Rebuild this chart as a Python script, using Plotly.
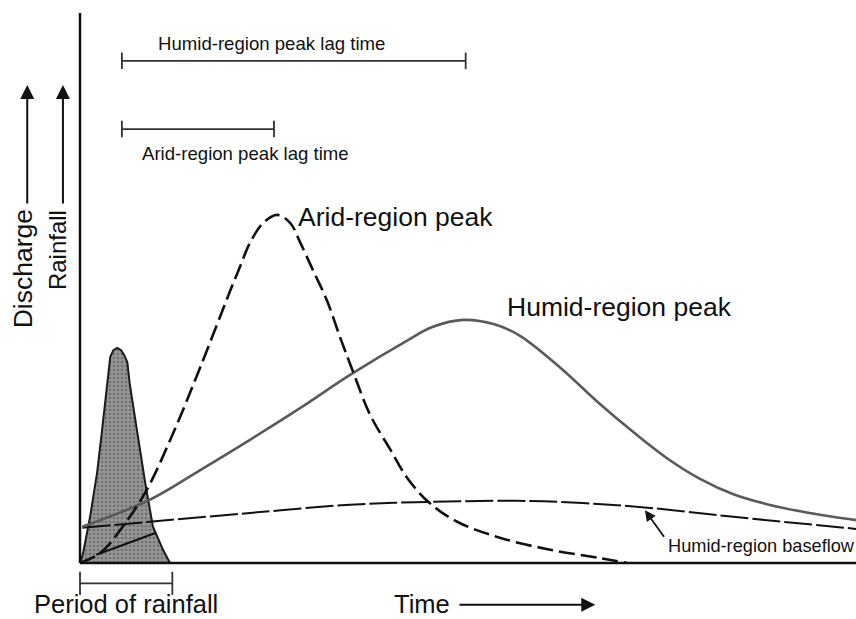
import plotly.graph_objects as go

# ---- data (arbitrary time / discharge units; origin at axes corner) ----
rain_t = [0, 0.4, 1.3, 2.2, 2.8, 3.5, 3.9, 4.3, 4.8, 5.3, 5.7, 6.1, 6.4, 7.4, 8.4, 9.4, 10.7, 11.6]
rain_v = [0, 1.8, 8.4, 16.4, 23.6, 32.7, 37.5, 38.7, 39.1, 38.7, 37.8, 36.5, 32.7, 23.6, 14.6, 6.6, 2.4, 0]

arid_t = [0, 2.6, 5.5, 8.6, 12.0, 15.5, 19.3, 20.6, 21.9, 23.6, 25.4, 27.1, 28.4, 30.0, 31.8,
          33.5, 35.1, 37.4, 40.0, 42.1, 44.9, 48.6, 54.1, 60.6, 67.0, 70.5]
arid_q = [0, 1.8, 6.6, 13.3, 23.6, 35.6, 49.3, 53.8, 58.2, 61.8, 63.3, 61.8, 58.2, 53.3, 47.8,
          41.1, 35.1, 26.9, 20.6, 15.6, 11.1, 7.5, 4.6, 2.4, 0.9, 0]

humid_t = [0.3, 9.0, 15.5, 21.9, 28.4, 34.8, 42.1, 45.4, 49.4, 53.4, 56.7, 61.9,
           67.0, 71.3, 75.6, 79.9, 84.2, 88.5, 92.8, 97.0, 100]
humid_q = [6.6, 11.5, 16.9, 22.4, 28.2, 34.2, 40.4, 42.9, 44.2, 43.4, 41.3, 35.5,
           28.9, 23.8, 19.1, 15.3, 12.5, 10.7, 9.4, 8.4, 7.8]

base_t = [0.3, 9.0, 21.9, 34.8, 44.9, 56.3, 64.8, 73.5, 84.2, 100]
base_q = [6.4, 7.5, 9.1, 10.6, 11.1, 11.3, 10.9, 10.0, 8.4, 6.2]

sep_t = [2.1, 9.8]
sep_q = [1.5, 5.5]

rain_center = 5.4
arid_peak_t = 25.0
humid_peak_t = 49.7
rain_end = 11.9

FONT = "Arial, Liberation Sans, sans-serif"
XU = 7.76  # px per time unit
YU = 5.5   # px per discharge unit

fig = go.Figure()

# rainfall hyetograph
fig.add_trace(go.Scatter(x=rain_t, y=rain_v, mode="lines", fill="toself",
                         fillcolor="#8f8f8f",
                         fillpattern=dict(shape=".", bgcolor="#959595", fgcolor="#505050",
                                          size=4, solidity=0.35),
                         line=dict(color="#1a1a1a", width=2), hoverinfo="skip"))
fig.add_trace(go.Scatter(x=sep_t, y=sep_q, mode="lines",
                         line=dict(color="#111", width=2), hoverinfo="skip"))

# hydrographs
fig.add_trace(go.Scatter(x=base_t, y=base_q, mode="lines", line_shape="spline",
                         line=dict(color="#111", width=2, dash="28px,4px"), hoverinfo="skip"))
fig.add_trace(go.Scatter(x=humid_t, y=humid_q, mode="lines", line_shape="spline",
                         line=dict(color="#5a5a5a", width=2.6), hoverinfo="skip"))
fig.add_trace(go.Scatter(x=arid_t, y=arid_q, mode="lines", line_shape="spline",
                         line=dict(color="#111", width=2.6, dash="16px,6px"), hoverinfo="skip"))

# axes
fig.add_trace(go.Scatter(x=[0, 0, None, 0, 100], y=[100, 0, None, 0, 0], mode="lines",
                         line=dict(color="#111", width=2.5), hoverinfo="skip"))

# lag-time bars and rainfall period bar
def bar(x0, x1, y, h):
    return [x0, x1, None, x0, x0, None, x1, x1], [y, y, None, y - h, y + h, None, y - h, y + h]

bx, by = bar(rain_center, humid_peak_t, 91.3, 1.5)
fig.add_trace(go.Scatter(x=bx, y=by, mode="lines", line=dict(color="#333", width=1.8), hoverinfo="skip"))
bx, by = bar(rain_center, arid_peak_t, 78.9, 1.5)
fig.add_trace(go.Scatter(x=bx, y=by, mode="lines", line=dict(color="#333", width=1.8), hoverinfo="skip"))
bx, by = bar(0, rain_end, -3.7, 2.1)
fig.add_trace(go.Scatter(x=bx, y=by, mode="lines", line=dict(color="#333", width=1.8), hoverinfo="skip"))

def txt(x, y, s, size, xanchor="center", yanchor="middle", angle=0, color="#111"):
    fig.add_annotation(x=x, y=y, text=s, showarrow=False, xanchor=xanchor, yanchor=yanchor,
                       textangle=angle, borderpad=0,
                       font=dict(family=FONT, size=size, color=color))

txt(24.7, 94.4, "Humid-region peak lag time", 18.6)
txt(21.3, 74.5, "Arid-region peak lag time", 18.6)
txt(27.9, 63.0, "Arid-region peak", 26.5, xanchor="left")
txt(54.9, 46.6, "Humid-region peak", 26.5, xanchor="left")
txt(75.6, 3.1, "Humid-region baseflow", 18.2, xanchor="left")
txt(5.9, -10.1, "Period of rainfall", 25.5, yanchor="bottom")
txt(40.3, -10.1, "Time", 25.5, xanchor="left", yanchor="bottom")
txt(-7.4, 53.5, "Discharge", 26.5, angle=-90)
txt(-2.9, 56.8, "Rainfall", 24, angle=-90)

# arrows
def arrow(x0, y0, x1, y1, size=1.4, width=2):
    fig.add_annotation(x=x1, y=y1, ax=x0, ay=y0, xref="x", yref="y", axref="x", ayref="y",
                       showarrow=True, arrowhead=2, arrowsize=size, arrowwidth=width,
                       arrowcolor="#111", text="")

arrow(-6.8, 65.1, -6.8, 86.9)
arrow(-2.2, 65.1, -2.2, 86.9)
arrow(48.7, -7.6, 66.4, -7.6)
arrow(75.4, 4.5, 72.8, 9.6, size=1.2, width=1.8)

fig.update_layout(
    width=856, height=619, margin=dict(l=0, r=0, t=0, b=0),
    paper_bgcolor="white", plot_bgcolor="white", showlegend=False,
    xaxis=dict(range=[-80 / XU, 100], visible=False, fixedrange=True),
    yaxis=dict(range=[-56 / YU, 563 / YU], visible=False, fixedrange=True),
)

fig.write_html("out.html", config={"displayModeBar": False},
               post_script="document.body.style.margin='0';document.body.style.overflow='hidden';")
